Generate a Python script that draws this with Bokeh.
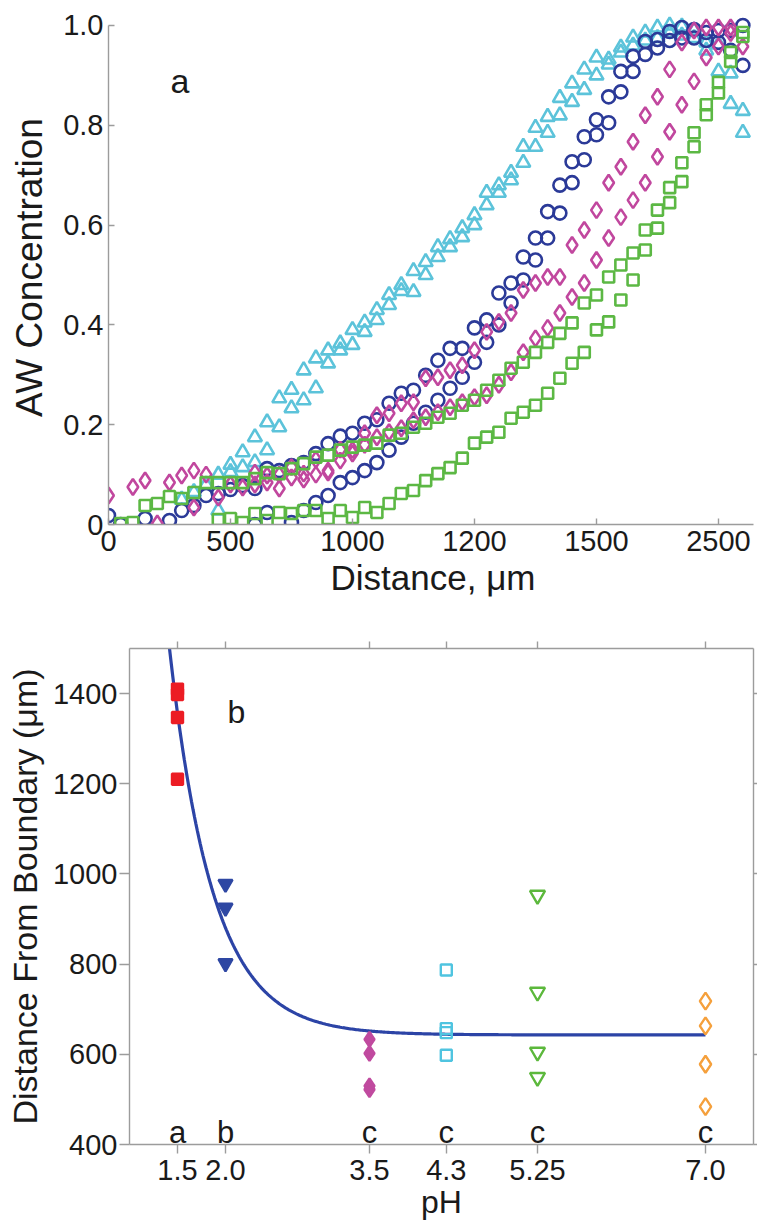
import numpy as np
from bokeh.plotting import figure
from bokeh.models import (ColumnDataSource, FixedTicker, LinearAxis, Range1d,
                          CustomJSTickFormatter, Label)
from bokeh.embed import file_html
from bokeh.resources import INLINE
from bokeh.core.properties import value

# ---------------- Panel a data ----------------
dist_ticks = [0, 500, 1000, 1500, 2000, 2500]
dist_tick_labels = ["0", "500", "1000", "1200", "1500", "2500"]
conc_ticks = [0, 0.2, 0.4, 0.6, 0.8, 1.0]
conc_tick_labels = ["0", "0.2", "0.4", "0.6", "0.8", "1.0"]

cyan_u_x = [300, 350, 400, 450, 500, 550, 600, 650, 700, 750,
            800, 850, 900, 950, 1000, 1050, 1100, 1150, 1200, 1250,
            1300, 1350, 1400, 1450, 1500, 1550, 1600, 1650, 1700, 1750,
            1800, 1850, 1900, 1950, 2000, 2050, 2100, 2150, 2200, 2250,
            2300, 2350, 2400, 2450, 2500, 2550, 2600]
cyan_u_y = [0.05, 0.065, 0.08, 0.10, 0.12, 0.145, 0.175, 0.205, 0.253, 0.27,
            0.309, 0.333, 0.349, 0.363, 0.39, 0.405, 0.43, 0.46, 0.48, 0.508,
            0.526, 0.556, 0.572, 0.594, 0.62, 0.665, 0.68, 0.705, 0.757, 0.795,
            0.817, 0.855, 0.884, 0.912, 0.936, 0.932, 0.956, 0.976, 0.986, 0.996,
            1.0, 0.998, 0.99, 0.966, 0.962, 0.904, 0.829]

cyan_l_x = [450, 500, 550, 600, 650, 700, 750, 800, 850, 900,
            950, 1000, 1050, 1100, 1150, 1200, 1250, 1300, 1350, 1400,
            1450, 1500, 1550, 1600, 1650, 1700, 1750, 1800, 1850, 1900,
            1950, 2000, 2050, 2100, 2150, 2200, 2250, 2300, 2350, 2400,
            2450, 2500, 2550, 2600]
cyan_l_y = [0.028, 0.105, 0.115, 0.125, 0.149, 0.195, 0.233, 0.249, 0.273, 0.323,
            0.349, 0.36, 0.386, 0.41, 0.44, 0.468, 0.466, 0.50, 0.536, 0.556,
            0.576, 0.60, 0.64, 0.665, 0.69, 0.725, 0.757, 0.785, 0.82, 0.847,
            0.871, 0.90, 0.922, 0.946, 0.96, 0.97, 0.975, 0.985, 0.98, 0.975,
            0.95, 0.908, 0.843, 0.785]

blue_a_x = [0, 50, 150, 250, 300, 350, 400, 450, 500, 550,
            600, 650, 700, 750, 800, 850, 900, 950, 1000, 1050,
            1100, 1150, 1200, 1250, 1300, 1350, 1400, 1450, 1500, 1550,
            1600, 1650, 1700, 1750, 1800, 1850, 1900, 1950, 2000, 2050,
            2100, 2150, 2200, 2250, 2300, 2350, 2400, 2450, 2500, 2550,
            2600]
blue_a_y = [0.018, 0.0, 0.012, 0.008, 0.028, 0.038, 0.058, 0.062, 0.07, 0.078,
            0.072, 0.112, 0.108, 0.118, 0.124, 0.142, 0.162, 0.177, 0.183, 0.203,
            0.21, 0.243, 0.263, 0.269, 0.299, 0.329, 0.353, 0.353, 0.394, 0.41,
            0.464, 0.484, 0.536, 0.574, 0.627, 0.68, 0.727, 0.777, 0.811, 0.857,
            0.908, 0.938, 0.968, 0.972, 0.988, 0.996, 0.992, 0.986, 0.99, 0.99,
            1.0]

blue_b_x = [600, 650, 750, 800, 850, 900, 950, 1000, 1050, 1100,
            1150, 1200, 1250, 1300, 1350, 1400, 1450, 1500, 1550, 1600,
            1650, 1700, 1750, 1800, 1850, 1900, 1950, 2000, 2050, 2100,
            2150, 2200, 2250, 2300, 2350, 2400, 2450, 2500, 2550, 2600]
blue_b_y = [0.0, 0.024, 0.004, 0.028, 0.044, 0.058, 0.084, 0.094, 0.108, 0.124,
            0.149, 0.175, 0.203, 0.225, 0.249, 0.273, 0.295, 0.325, 0.365, 0.40,
            0.444, 0.49, 0.53, 0.574, 0.624, 0.685, 0.731, 0.781, 0.805, 0.867,
            0.908, 0.942, 0.955, 0.97, 0.975, 0.975, 0.97, 0.966, 0.95, 0.92]

magenta_a_x = [0, 100, 150, 250, 300, 350, 400, 500, 600, 650,
               700, 750, 800, 850, 900, 950, 1000, 1050, 1100, 1150,
               1200, 1250, 1300, 1350, 1400, 1450, 1500, 1550, 1600, 1650,
               1700, 1750, 1800, 1850, 1900, 1950, 2000, 2050, 2100, 2150,
               2200, 2250, 2300, 2350, 2400, 2450, 2500, 2550, 2600]
magenta_a_y = [0.058, 0.075, 0.088, 0.084, 0.098, 0.108, 0.1, 0.08, 0.104, 0.098,
               0.1, 0.115, 0.102, 0.13, 0.108, 0.15, 0.142, 0.183, 0.219, 0.223,
               0.243, 0.245, 0.293, 0.295, 0.309, 0.319, 0.349, 0.386, 0.406, 0.424,
               0.47, 0.484, 0.496, 0.496, 0.56, 0.59, 0.63, 0.685, 0.717, 0.767,
               0.82, 0.857, 0.912, 0.966, 0.99, 0.996, 0.996, 0.996, 0.958]

magenta_b_x = [200, 350, 450, 550, 600, 650, 700, 750, 800, 850,
               900, 950, 1000, 1050, 1100, 1150, 1200, 1250, 1300, 1350,
               1400, 1450, 1500, 1550, 1600, 1650, 1700, 1750, 1800, 1850,
               1900, 1950, 2000, 2050, 2100, 2150, 2200, 2250, 2300, 2350,
               2400, 2450, 2500, 2550]
magenta_b_y = [0.002, 0.034, 0.054, 0.074, 0.08, 0.084, 0.072, 0.094, 0.09, 0.1,
               0.104, 0.128, 0.149, 0.16, 0.175, 0.185, 0.193, 0.209, 0.215, 0.225,
               0.235, 0.245, 0.255, 0.259, 0.28, 0.305, 0.345, 0.373, 0.394, 0.424,
               0.456, 0.484, 0.53, 0.574, 0.616, 0.65, 0.685, 0.737, 0.787, 0.841,
               0.888, 0.936, 0.958, 0.985]

green_a_x = [50, 100, 150, 200, 250, 300, 350, 400, 450, 500,
             550, 600, 650, 700, 750, 800, 850, 900, 950, 1000,
             1050, 1100, 1150, 1200, 1250, 1300, 1350, 1400, 1450, 1500,
             1550, 1600, 1650, 1700, 1750, 1800, 1850, 1900, 1950, 2000,
             2050, 2100, 2150, 2200, 2250, 2300, 2350, 2400, 2450, 2500,
             2550, 2600]
green_a_y = [0.002, 0.004, 0.038, 0.042, 0.056, 0.052, 0.064, 0.084, 0.084, 0.084,
             0.084, 0.092, 0.104, 0.102, 0.112, 0.122, 0.135, 0.139, 0.149, 0.155,
             0.159, 0.163, 0.179, 0.183, 0.195, 0.203, 0.215, 0.223, 0.239, 0.249,
             0.269, 0.289, 0.313, 0.325, 0.345, 0.365, 0.383, 0.404, 0.444, 0.46,
             0.496, 0.52, 0.544, 0.59, 0.63, 0.675, 0.725, 0.785, 0.841, 0.886,
             0.946, 0.986]

green_b_x = [450, 500, 550, 600, 650, 700, 750, 800, 850, 900,
             950, 1000, 1050, 1100, 1150, 1200, 1250, 1300, 1350, 1400,
             1450, 1500, 1550, 1600, 1650, 1700, 1750, 1800, 1850, 1900,
             1950, 2000, 2050, 2100, 2150, 2200, 2250, 2300, 2350, 2400,
             2450, 2500, 2550, 2600]
green_b_y = [0.01, 0.012, 0.004, 0.022, 0.008, 0.024, 0.022, 0.028, 0.028, 0.012,
             0.028, 0.014, 0.034, 0.024, 0.042, 0.062, 0.068, 0.088, 0.102, 0.114,
             0.133, 0.163, 0.175, 0.185, 0.213, 0.225, 0.239, 0.263, 0.293, 0.323,
             0.345, 0.39, 0.406, 0.45, 0.49, 0.55, 0.594, 0.645, 0.687, 0.757,
             0.821, 0.865, 0.928, 0.978]

# ---------------- Panel b data ----------------
ph_ticks = [1.5, 2.0, 3.5, 4.3, 5.25, 7.0]
ph_tick_labels = ["1.5", "2.0", "3.5", "4.3", "5.25", "7.0"]
boundary_ticks = [400, 600, 800, 1000, 1200, 1400]
sig_letters = ["a", "b", "c", "c", "c", "c"]

ph15_y = [1410, 1398, 1347, 1210]
ph20_y = [978, 925, 802]
ph35_y = [633, 602, 530, 522]
ph43_y = [787, 657, 648, 598]
ph525_y = [953, 738, 605, 549]
ph70_y = [718, 663, 578, 484]

# exponential-decay fit drawn in panel b
fit_asymptote = 643.0
fit_amplitude = 19350.0
fit_rate = 2.2
fit_ph_start, fit_ph_end = 1.0, 7.0

FONT = "Liberation Sans"
TXT = "#1a1a1a"
AXC = "#9c9c9c"

C_CYAN = "#5cc3da"
C_BLUE = "#2b3a98"
C_MAG = "#c1479e"
C_GREEN = "#5cb844"


def style_axis(ax, tick_in, tick_out, standoff, size="29px",
               label=None, label_size="34px", label_standoff=0):
    ax.axis_line_color = AXC
    ax.axis_line_width = 1.4
    ax.major_tick_line_color = AXC
    ax.major_tick_line_width = 1.4
    ax.major_tick_in = tick_in
    ax.major_tick_out = tick_out
    ax.minor_tick_line_color = None
    ax.major_label_text_font = FONT
    ax.major_label_text_font_size = size
    ax.major_label_text_color = TXT
    ax.major_label_standoff = standoff
    if label is not None:
        ax.axis_label = label
        ax.axis_label_text_font = FONT
        ax.axis_label_text_font_size = label_size
        ax.axis_label_text_font_style = "normal"
        ax.axis_label_text_color = TXT
        ax.axis_label_standoff = label_standoff


# ---------------- Panel a ----------------
pa = figure(width=757, height=614, x_range=Range1d(0, 2660), y_range=Range1d(0, 1.03),
            output_backend="svg", toolbar_location=None,
            min_border_left=108, min_border_right=0, min_border_top=10, min_border_bottom=90)
pa.outline_line_color = None
pa.grid.visible = False

pa.xaxis.ticker = FixedTicker(ticks=dist_ticks)
pa.xaxis.major_label_overrides = dict(zip(dist_ticks, dist_tick_labels))
pa.xaxis.bounds = (0, 2643)
style_axis(pa.xaxis[0], 6, 0, 6, label="Distance, \u03bcm", label_size="35px",
           label_standoff=4)

pa.yaxis.ticker = FixedTicker(ticks=conc_ticks)
pa.yaxis.major_label_overrides = dict(zip(conc_ticks, conc_tick_labels))
pa.yaxis.bounds = (0, 1.0)
style_axis(pa.yaxis[0], 6, 0, 5, label="AW Concentration", label_size="37px",
           label_standoff=10)

series_a = [
    (cyan_u_x, cyan_u_y, "triangle", C_CYAN, 14),
    (cyan_l_x, cyan_l_y, "triangle", C_CYAN, 14),
    (blue_a_x, blue_a_y, "circle", C_BLUE, 13),
    (blue_b_x, blue_b_y, "circle", C_BLUE, 13),
    (magenta_a_x, magenta_a_y, "diamond", C_MAG, 16),
    (magenta_b_x, magenta_b_y, "diamond", C_MAG, 16),
    (green_a_x, green_a_y, "square", C_GREEN, 11),
    (green_b_x, green_b_y, "square", C_GREEN, 11),
]
for xs, ys, mk, col, sz in series_a:
    src = ColumnDataSource(dict(x=xs, y=ys))
    pa.scatter("x", "y", source=src, marker=mk, size=sz, fill_color=None,
               line_color=col, line_width=2.6)

pa.add_layout(Label(x=254, y=0.888, text="a", text_font=FONT, text_font_size="34px",
                    text_color=TXT, text_baseline="alphabetic"))

# ---------------- Panel b ----------------
pb = figure(width=757, height=609, x_range=Range1d(1.0, 7.5), y_range=Range1d(400, 1500),
            output_backend="svg", toolbar_location=None,
            min_border_left=129, min_border_right=4, min_border_top=34, min_border_bottom=79)
pb.outline_line_color = None
pb.grid.visible = False

pb.xaxis.ticker = FixedTicker(ticks=ph_ticks)
pb.xaxis.major_label_overrides = dict(zip(ph_ticks, ph_tick_labels))
style_axis(pb.xaxis[0], 0, 9, 6, label="pH", label_size="32px", label_standoff=1)

pb.yaxis.ticker = FixedTicker(ticks=boundary_ticks)
style_axis(pb.yaxis[0], 0, 10, 2, label="Distance From Boundary (\u03bcm)",
           label_size="34px", label_standoff=6)

top_ax = LinearAxis(ticker=FixedTicker(ticks=ph_ticks),
                    formatter=CustomJSTickFormatter(code="return ''"))
style_axis(top_ax, 0, 7, 0, size="10px")
pb.add_layout(top_ax, "above")
right_ax = LinearAxis(ticker=FixedTicker(ticks=boundary_ticks),
                      formatter=CustomJSTickFormatter(code="return ''"))
style_axis(right_ax, 0, 4, 0, size="10px")
pb.add_layout(right_ax, "right")

ph_curve = np.linspace(fit_ph_start, fit_ph_end, 400)
dist_curve = fit_asymptote + fit_amplitude * np.exp(-fit_rate * ph_curve)
pb.line(ph_curve, dist_curve, line_color="#2c44a6", line_width=3.2)

groups_b = [
    (ph_ticks[0], ph15_y, "square", "#ec1c24", "#ec1c24", 11),
    (ph_ticks[1], ph20_y, "inverted_triangle", "#2e47a3", "#2e47a3", 14),
    (ph_ticks[2], ph35_y, "diamond", "#c04a9f", "#c04a9f", 15),
    (ph_ticks[3], ph43_y, "square", None, "#4fc4e0", 11),
    (ph_ticks[4], ph525_y, "inverted_triangle", None, "#5cb83c", 15),
    (ph_ticks[5], ph70_y, "diamond", None, "#f5a03c", 17),
]
for ph, ys, mk, fill, line, sz in groups_b:
    src = ColumnDataSource(dict(x=[ph] * len(ys), y=ys))
    pb.scatter("x", "y", source=src, marker=mk, size=sz, fill_color=fill,
               line_color=line, line_width=2.4)

sig_src = ColumnDataSource(dict(x=ph_ticks, y=[426] * len(ph_ticks), t=sig_letters))
pb.text("x", "y", text="t", source=sig_src, text_align="center", text_baseline="alphabetic",
        text_font=value(FONT), text_font_size="31px", text_color=TXT)

pb.add_layout(Label(x=2.02, y=1360, text="b", text_font=FONT, text_font_size="32px",
                    text_color=TXT, text_baseline="alphabetic"))

open("out.html", "w").write(file_html([pa, pb], INLINE))
